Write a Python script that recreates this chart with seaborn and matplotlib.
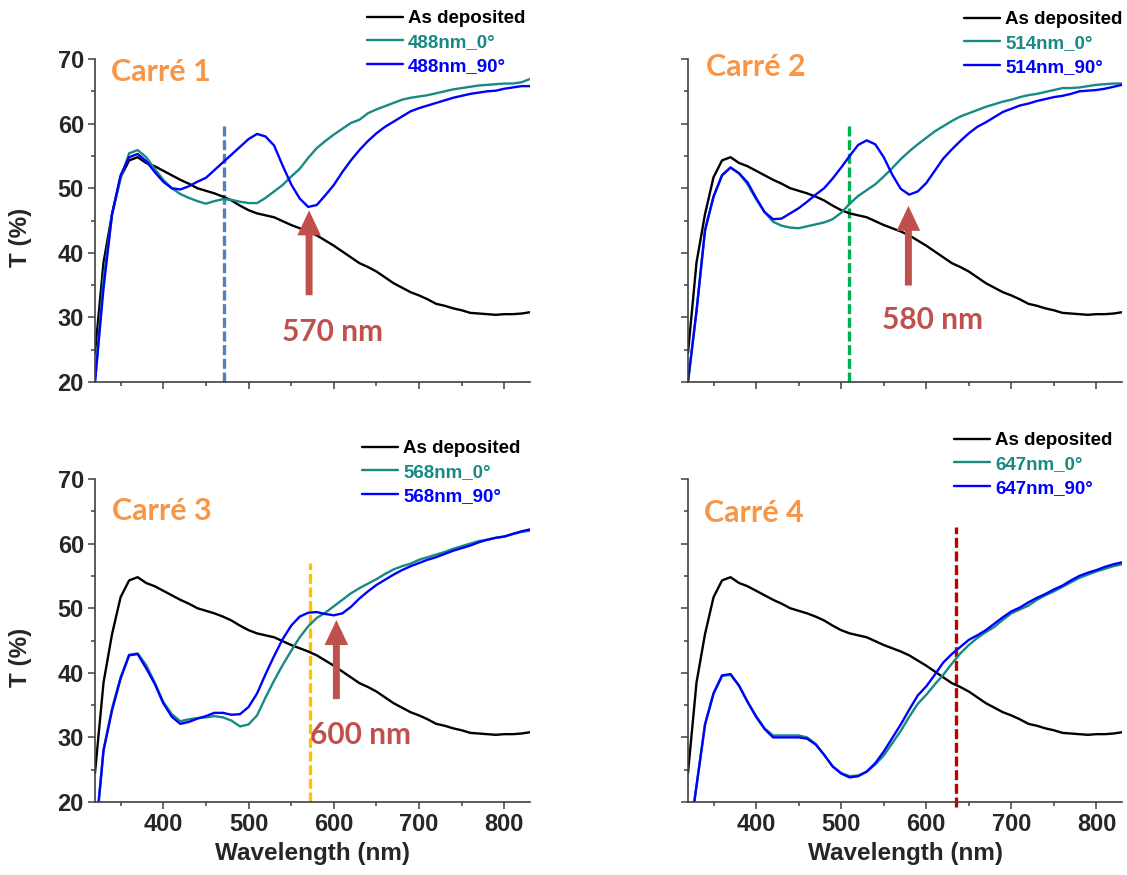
import numpy as np
import pandas as pd
import matplotlib
matplotlib.use('Agg')
import matplotlib.pyplot as plt
import seaborn as sns
from matplotlib.ticker import MultipleLocator

# Transmission spectra, read every 10 nm from 320 to 830 nm
wavelength = np.arange(320, 831, 10)

as_deposited = [24.5, 38.5, 46.0, 51.7, 54.3, 54.8, 53.9, 53.4, 52.7, 52.0,
                51.3, 50.7, 50.0, 49.6, 49.2, 48.7, 48.1, 47.3, 46.6, 46.1,
                45.8, 45.5, 44.9, 44.3, 43.8, 43.3, 42.7, 41.9, 41.1, 40.2,
                39.3, 38.4, 37.8, 37.1, 36.2, 35.3, 34.6, 33.9, 33.4, 32.8,
                32.1, 31.8, 31.4, 31.1, 30.7, 30.6, 30.5, 30.4, 30.5, 30.5,
                30.6, 30.8]

c1_0deg = [20.0, 36.0, 46.0, 51.5, 55.4, 55.9, 54.8, 53.0, 51.3, 50.0,
           49.1, 48.5, 48.0, 47.6, 48.0, 48.3, 48.2, 47.9, 47.7, 47.7,
           48.5, 49.5, 50.5, 51.8, 53.0, 54.7, 56.2, 57.3, 58.3, 59.2,
           60.1, 60.6, 61.6, 62.2, 62.7, 63.2, 63.7, 64.0, 64.2, 64.4,
           64.7, 65.0, 65.3, 65.5, 65.7, 65.9, 66.0, 66.1, 66.2, 66.2,
           66.4, 66.9]
c1_90deg = [20.0, 34.5, 46.0, 52.0, 54.8, 55.3, 54.2, 52.5, 51.0, 50.0,
            49.8, 50.3, 51.0, 51.6, 52.8, 54.0, 55.2, 56.4, 57.6, 58.4,
            58.0, 56.6, 53.5, 50.6, 48.4, 47.1, 47.4, 48.9, 50.5, 52.5,
            54.3, 55.9, 57.3, 58.5, 59.5, 60.3, 61.1, 61.9, 62.4, 62.8,
            63.2, 63.6, 64.0, 64.3, 64.6, 64.8, 65.0, 65.1, 65.4, 65.6,
            65.8, 65.8]

c2_0deg = [20.0, 31.0, 43.5, 48.7, 52.0, 53.2, 52.3, 50.6, 48.3, 46.3,
           44.8, 44.2, 43.9, 43.8, 44.1, 44.4, 44.7, 45.2, 46.2, 47.6,
           48.8, 49.7, 50.6, 51.8, 53.1, 54.5, 55.7, 56.8, 57.8, 58.8,
           59.6, 60.4, 61.1, 61.6, 62.1, 62.6, 63.0, 63.4, 63.7, 64.1,
           64.4, 64.6, 64.9, 65.2, 65.5, 65.5, 65.6, 65.8, 66.0, 66.1,
           66.2, 66.2]
c2_90deg = [20.0, 31.0, 43.5, 48.7, 52.0, 53.2, 52.3, 50.9, 48.5, 46.3,
            45.2, 45.3, 46.1, 46.9, 47.9, 49.0, 50.0, 51.5, 53.2, 55.0,
            56.7, 57.4, 56.8, 54.8, 52.1, 49.9, 49.0, 49.5, 50.8, 52.7,
            54.6, 56.0, 57.3, 58.5, 59.5, 60.2, 61.0, 61.8, 62.3, 62.8,
            63.1, 63.5, 63.8, 64.1, 64.3, 64.6, 65.0, 65.1, 65.2, 65.4,
            65.7, 66.0]

c3_0deg = [14.0, 28.0, 34.5, 39.3, 42.8, 43.0, 41.2, 38.5, 35.5, 33.6,
           32.5, 32.8, 33.0, 33.1, 33.3, 33.1, 32.6, 31.7, 32.0, 33.4,
           36.2, 38.8, 41.2, 43.4, 45.5, 47.2, 48.5, 49.3, 50.3, 51.3,
           52.3, 53.1, 53.8, 54.5, 55.3, 56.0, 56.5, 56.9, 57.5, 57.9,
           58.3, 58.7, 59.2, 59.6, 60.0, 60.4, 60.6, 60.9, 61.1, 61.5,
           61.8, 62.0]
c3_90deg = [14.0, 28.0, 34.2, 39.1, 42.7, 42.9, 40.7, 38.3, 35.3, 33.2,
            32.1, 32.4, 32.9, 33.3, 33.8, 33.8, 33.5, 33.6, 34.7, 36.8,
            39.8, 42.6, 45.2, 47.3, 48.7, 49.3, 49.4, 49.1, 48.9, 49.2,
            50.2, 51.5, 52.6, 53.6, 54.4, 55.2, 55.9, 56.5, 57.0, 57.5,
            57.9, 58.4, 58.9, 59.3, 59.7, 60.2, 60.6, 60.9, 61.1, 61.5,
            61.9, 62.2]

c4_0deg = [13.0, 22.5, 32.0, 36.8, 39.5, 39.7, 38.0, 35.5, 33.3, 31.4,
           30.3, 30.3, 30.3, 30.3, 30.0, 29.0, 27.3, 25.5, 24.5, 24.0,
           24.1, 24.7, 25.8, 27.2, 29.1, 31.0, 33.2, 35.2, 36.6, 38.2,
           39.7, 41.4, 43.0, 44.3, 45.4, 46.3, 47.1, 48.2, 49.2, 49.8,
           50.4, 51.3, 52.0, 52.6, 53.3, 54.0, 54.7, 55.2, 55.7, 56.1,
           56.5, 56.8]
c4_90deg = [13.0, 22.5, 32.0, 36.8, 39.6, 39.8, 38.0, 35.5, 33.2, 31.3,
            30.0, 30.0, 30.0, 30.0, 29.8, 28.9, 27.3, 25.5, 24.4, 23.8,
            24.0, 24.7, 26.0, 27.8, 29.9, 32.0, 34.3, 36.5, 37.9, 39.7,
            41.6, 42.9, 44.0, 45.1, 45.8, 46.6, 47.6, 48.6, 49.5, 50.1,
            50.9, 51.6, 52.2, 52.9, 53.5, 54.3, 55.0, 55.5, 55.9, 56.4,
            56.8, 57.1]

panel_names = ['Carré 1', 'Carré 2', 'Carré 3', 'Carré 4']
laser_lines = ['488nm', '514nm', '568nm', '647nm']
curves_0 = [c1_0deg, c2_0deg, c3_0deg, c4_0deg]
curves_90 = [c1_90deg, c2_90deg, c3_90deg, c4_90deg]

# vertical marker (laser position) and minimum arrows
marker_nm = [471, 509, 572, 635]
marker_top = [60, 60, 57, 62.6]
marker_colors = ['#4f81bd', '#00b050', '#ffc000', '#c00000']
arrow_nm = [571, 579, 603, None]
arrow_tip = [47.0, 47.7, 48.6, None]
arrow_tail = [33.0, 34.5, 35.5, None]
dip_labels = ['570 nm', '580 nm', '600 nm', None]
dip_label_nm = [599, 607, 631, None]
dip_label_T = [27.7, 29.6, 30.4, None]

sns.set_style('ticks')
plt.rcParams['font.family'] = ['Liberation Sans', 'DejaVu Sans']
plt.rcParams['font.weight'] = 'bold'

W, H = 1127, 875
fig = plt.figure(figsize=(W / 100, H / 100), dpi=100)

# axes boxes in pixels: left, top, right, bottom
boxes = [(95, 59, 530, 382), (688, 59, 1122, 382),
         (95, 479, 530, 802), (688, 479, 1122, 802)]
legend_anchor = [(367, 17), (964, 18), (362, 447), (954, 439)]
title_anchor = [(111, 72), (706, 67), (112, 511), (704, 513)]

teal = '#178a84'
blue = '#0000ff'
axis_grey = '#404040'

for i in range(4):
    l, t, r, b = boxes[i]
    ax = fig.add_axes([l / W, 1 - b / H, (r - l) / W, (b - t) / H])

    sns.lineplot(x=wavelength, y=as_deposited, ax=ax, color='black', lw=1.7,
                 label='As deposited')
    sns.lineplot(x=wavelength, y=curves_0[i], ax=ax, color=teal, lw=1.7,
                 label=laser_lines[i] + '_0°')
    sns.lineplot(x=wavelength, y=curves_90[i], ax=ax, color=blue, lw=1.7,
                 label=laser_lines[i] + '_90°')

    ax.set_xlim(320, 830)
    ax.set_ylim(20, 70)
    ax.xaxis.set_major_locator(MultipleLocator(100))
    ax.xaxis.set_minor_locator(MultipleLocator(50))
    ax.yaxis.set_major_locator(MultipleLocator(10))
    ax.yaxis.set_minor_locator(MultipleLocator(5))
    sns.despine(ax=ax)
    for side in ['left', 'bottom']:
        ax.spines[side].set_color(axis_grey)
        ax.spines[side].set_linewidth(1.2)
    ax.tick_params(which='major', direction='out', length=5, width=1.1,
                   color=axis_grey, labelsize=17, pad=3)
    ax.tick_params(which='minor', direction='out', length=3, width=1.1,
                   color=axis_grey)
    if i < 2:
        ax.tick_params(axis='x', labelbottom=False)
        ax.set_xlabel('')
    else:
        ax.set_xlabel('Wavelength (nm)', fontsize=17.5, fontweight='bold',
                      labelpad=4)
    if i % 2 == 1:
        ax.tick_params(axis='y', labelleft=False)
    ax.set_ylabel('')

    # dashed laser marker
    ax.plot([marker_nm[i], marker_nm[i]], [19.2 if i == 3 else 20, marker_top[i]],
            color=marker_colors[i], lw=2.4, ls=(0, (3, 1.1)), clip_on=False,
            zorder=1)

    if arrow_nm[i] is not None:
        ax.annotate('', xy=(arrow_nm[i], arrow_tip[i]),
                    xytext=(arrow_nm[i], arrow_tail[i]),
                    arrowprops=dict(arrowstyle='simple,head_length=0.9,head_width=0.85,tail_width=0.25',
                                    color='#c0504d', mutation_scale=20, lw=0),
                    zorder=5)
        ax.text(dip_label_nm[i], dip_label_T[i], dip_labels[i], color='#c0504d',
                fontsize=21.5, fontweight='bold', family=['Lato', 'DejaVu Sans'],
                ha='center', va='center', zorder=6)

    tx, ty = title_anchor[i]
    fig.text(tx / W, 1 - ty / H, panel_names[i], color='#f79646', fontsize=22,
             fontweight='bold', family=['Lato', 'DejaVu Sans'],
             ha='left', va='center')

    lx, ly = legend_anchor[i]
    ax.legend(loc='upper left', bbox_to_anchor=(lx / W, 1 - (ly - 7) / H),
              bbox_transform=fig.transFigure, frameon=False,
              prop={'size': 13.5, 'weight': 'bold'}, labelcolor='linecolor',
              handlelength=1.92, handletextpad=0.27, labelspacing=0.36,
              borderpad=0, borderaxespad=0)

    if i % 2 == 0:
        cy = 237 if i == 0 else 657
        fig.text(21 / W, 1 - cy / H, 'T (%)', rotation=90, ha='center',
                 va='center', fontsize=17.5, fontweight='bold')

fig.savefig('out.png', dpi=100)
